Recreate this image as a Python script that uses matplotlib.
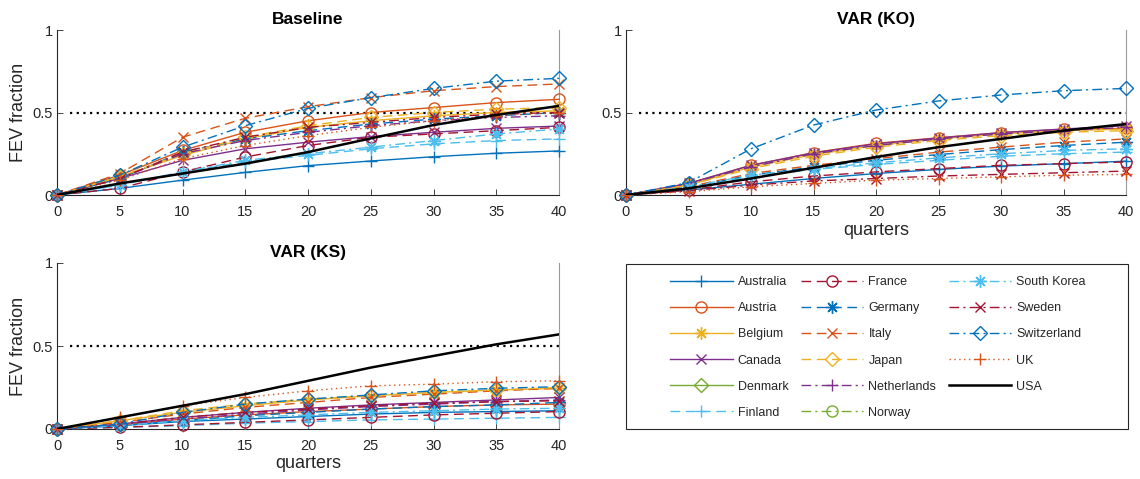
import matplotlib
matplotlib.use("Agg")
import matplotlib.pyplot as plt
import numpy as np
from matplotlib.patches import Rectangle

plt.rcParams['font.family'] = ['Liberation Sans', 'DejaVu Sans']

nan = np.nan
quarters = [0, 5, 10, 15, 20, 25, 30, 35, 40]
countries = ["Australia", "Austria", "Belgium", "Canada", "Denmark", "Finland",
             "France", "Germany", "Italy", "Japan", "Netherlands", "Norway",
             "South Korea", "Sweden", "Switzerland", "UK", "USA"]
threshold = 0.5

baseline = {
    "Australia":   [0, 0.04, 0.09, 0.137, 0.178, 0.206, 0.232, 0.253, 0.267],
    "Austria":     [0, 0.12, 0.27, 0.38, 0.45, 0.50, 0.53, 0.56, 0.58],
    "Belgium":     [0, 0.11, 0.24, 0.34, 0.41, 0.45, 0.48, 0.50, 0.51],
    "Canada":      [0, 0.10, 0.21, 0.28, 0.32, 0.354, 0.38, 0.404, 0.418],
    "Denmark":     [nan, nan, nan, nan, nan, nan, nan, nan, nan],
    "Finland":     [0, 0.06, 0.14, 0.20, 0.24, 0.28, 0.31, 0.33, 0.34],
    "France":      [0, 0.04, 0.14, 0.23, 0.30, 0.35, 0.37, 0.39, 0.41],
    "Germany":     [0, 0.10, 0.26, 0.34, 0.39, 0.43, 0.46, 0.48, 0.50],
    "Italy":       [0, 0.13, 0.35, 0.465, 0.535, 0.59, 0.632, 0.657, 0.673],
    "Japan":       [0, 0.11, 0.25, 0.35, 0.42, 0.47, 0.50, 0.52, 0.53],
    "Netherlands": [0, 0.10, 0.25, 0.33, 0.38, 0.42, 0.45, 0.47, 0.48],
    "Norway":      [nan, nan, nan, nan, nan, nan, nan, nan, nan],
    "South Korea": [0, 0.06, 0.14, 0.21, 0.25, 0.29, 0.33, 0.37, 0.40],
    "Sweden":      [0, 0.10, 0.26, 0.35, 0.41, 0.44, 0.47, 0.49, 0.50],
    "Switzerland": [0, 0.12, 0.29, 0.42, 0.525, 0.59, 0.646, 0.69, 0.707],
    "UK":          [0, 0.09, 0.22, 0.30, 0.36, 0.41, 0.45, 0.48, 0.50],
    "USA":         [0, 0.07, 0.13, 0.19, 0.26, 0.343, 0.424, 0.485, 0.54],
}

var_ko = {
    "Australia":   [0, 0.03, 0.065, 0.10, 0.13, 0.155, 0.175, 0.19, 0.205],
    "Austria":     [0, 0.07, 0.18, 0.257, 0.313, 0.347, 0.378, 0.398, 0.404],
    "Belgium":     [0, 0.06, 0.17, 0.245, 0.30, 0.34, 0.37, 0.39, 0.40],
    "Canada":      [0, 0.07, 0.18, 0.255, 0.31, 0.345, 0.378, 0.40, 0.42],
    "Denmark":     [nan, nan, nan, nan, nan, nan, nan, nan, nan],
    "Finland":     [0, 0.05, 0.11, 0.155, 0.185, 0.21, 0.235, 0.25, 0.26],
    "France":      [0, 0.03, 0.08, 0.115, 0.14, 0.16, 0.18, 0.19, 0.20],
    "Germany":     [0, 0.05, 0.12, 0.17, 0.21, 0.245, 0.275, 0.30, 0.32],
    "Italy":       [0, 0.05, 0.13, 0.18, 0.22, 0.26, 0.29, 0.32, 0.34],
    "Japan":       [0, 0.06, 0.16, 0.235, 0.29, 0.33, 0.36, 0.38, 0.39],
    "Netherlands": [0, 0.07, 0.17, 0.25, 0.30, 0.34, 0.37, 0.39, 0.41],
    "Norway":      [nan, nan, nan, nan, nan, nan, nan, nan, nan],
    "South Korea": [0, 0.05, 0.12, 0.16, 0.195, 0.225, 0.25, 0.27, 0.28],
    "Sweden":      [0, 0.025, 0.06, 0.085, 0.10, 0.115, 0.125, 0.135, 0.145],
    "Switzerland": [0, 0.075, 0.28, 0.424, 0.515, 0.57, 0.606, 0.632, 0.646],
    "UK":          [0, 0.02, 0.05, 0.07, 0.09, 0.10, 0.11, 0.12, 0.125],
    "USA":         [0, 0.04, 0.10, 0.165, 0.23, 0.29, 0.34, 0.39, 0.43],
}

var_ks = {
    "Australia":   [0, 0.02, 0.045, 0.06, 0.075, 0.09, 0.10, 0.105, 0.11],
    "Austria":     [0, 0.025, 0.06, 0.085, 0.105, 0.12, 0.135, 0.145, 0.15],
    "Belgium":     [0, 0.05, 0.10, 0.14, 0.175, 0.20, 0.22, 0.235, 0.245],
    "Canada":      [0, 0.03, 0.07, 0.10, 0.125, 0.145, 0.16, 0.175, 0.19],
    "Denmark":     [nan, nan, nan, nan, nan, nan, nan, nan, nan],
    "Finland":     [0, 0.01, 0.02, 0.035, 0.045, 0.055, 0.06, 0.065, 0.07],
    "France":      [0, 0.01, 0.025, 0.04, 0.055, 0.07, 0.085, 0.095, 0.105],
    "Germany":     [0, 0.02, 0.05, 0.08, 0.10, 0.12, 0.135, 0.145, 0.16],
    "Italy":       [0, 0.04, 0.09, 0.13, 0.16, 0.19, 0.21, 0.23, 0.245],
    "Japan":       [0, 0.05, 0.11, 0.15, 0.18, 0.20, 0.22, 0.235, 0.25],
    "Netherlands": [0, 0.025, 0.06, 0.09, 0.115, 0.135, 0.15, 0.165, 0.175],
    "Norway":      [nan, nan, nan, nan, nan, nan, nan, nan, nan],
    "South Korea": [0, 0.02, 0.05, 0.07, 0.085, 0.10, 0.11, 0.12, 0.125],
    "Sweden":      [0, 0.03, 0.07, 0.10, 0.12, 0.14, 0.155, 0.165, 0.17],
    "Switzerland": [0, 0.03, 0.10, 0.15, 0.18, 0.205, 0.23, 0.245, 0.255],
    "UK":          [0, 0.07, 0.14, 0.19, 0.23, 0.26, 0.27, 0.285, 0.29],
    "USA":         [0, 0.07, 0.14, 0.21, 0.29, 0.37, 0.44, 0.51, 0.57],
}

# styles
C = {"blue": "#0072BD", "orange": "#D95319", "yellow": "#EDB120", "purple": "#7E2F8E",
     "green": "#77AC30", "cyan": "#4DBEEE", "red": "#A2142F"}
SOLID = "-"
DASH = (0, (7, 4))
DASHDOT = (0, (7, 3, 1.5, 3))
DOT = (0, (1, 2.5))
AST = (8, 2, 0)
styles = {
    "Australia":   (C["blue"], SOLID, "+"),
    "Austria":     (C["orange"], SOLID, "o"),
    "Belgium":     (C["yellow"], SOLID, AST),
    "Canada":      (C["purple"], SOLID, "x"),
    "Denmark":     (C["green"], SOLID, "D"),
    "Finland":     (C["cyan"], DASH, "+"),
    "France":      (C["red"], DASH, "o"),
    "Germany":     (C["blue"], DASH, AST),
    "Italy":       (C["orange"], DASH, "x"),
    "Japan":       (C["yellow"], DASH, "D"),
    "Netherlands": (C["purple"], DASHDOT, "+"),
    "Norway":      (C["green"], DASHDOT, "o"),
    "South Korea": (C["cyan"], DASHDOT, AST),
    "Sweden":      (C["red"], DASHDOT, "x"),
    "Switzerland": (C["blue"], DASHDOT, "D"),
    "UK":          (C["orange"], DOT, "+"),
    "USA":         ("black", SOLID, None),
}
msize = {"+": 9, "o": 8, "x": 7, "D": 7}

W, H = 1140, 479
fig = plt.figure(figsize=(W / 100, H / 100), dpi=100)

def pos(x0, x1, ytop, ybot):
    return [x0 / W, 1 - ybot / H, (x1 - x0) / W, (ybot - ytop) / H]

ax_b = fig.add_axes(pos(57, 559, 30, 195))
ax_ko = fig.add_axes(pos(626, 1126, 30, 195))
ax_ks = fig.add_axes(pos(57, 559, 263, 429))

TXT = "#262626"
handles = []

def draw(ax, data, title, xlabel, ylabel, collect=False):
    for name in countries:
        col, ls, mk = styles[name]
        if name == "USA":
            ln, = ax.plot(quarters, data[name], color=col, lw=1.8, linestyle=ls,
                          label=name, zorder=4)
        else:
            ln, = ax.plot(quarters, data[name], color=col, lw=1.0, linestyle=ls,
                          marker=mk, markersize=msize.get(mk, 9),
                          markerfacecolor="none", markeredgewidth=1.0,
                          label=name, clip_on=False, zorder=3)
        if collect:
            handles.append(ln)
    ax.plot([1, 40], [threshold, threshold], color="black", lw=1.6,
            linestyle=(0, (1, 2)), zorder=2)
    ax.set_xlim(0, 40)
    ax.set_ylim(0, 1)
    ax.set_xticks(quarters)
    ax.set_yticks([0, 0.5, 1])
    ax.set_yticklabels(["0", "0.5", "1"])
    ax.tick_params(direction="in", length=4, width=0.6, colors=TXT, labelsize=10.5)
    ax.tick_params(axis="x", pad=7)
    ax.tick_params(axis="y", pad=3)
    ax.spines["top"].set_visible(False)
    ax.spines["right"].set_color("#9a9a9a")
    ax.spines["right"].set_linewidth(0.8)
    for s in ("left", "bottom"):
        ax.spines[s].set_color(TXT)
        ax.spines[s].set_linewidth(0.8)
    ax.set_title(title, fontsize=12.5, fontweight="bold", color="black", pad=4)
    if xlabel:
        ax.set_xlabel(xlabel, fontsize=13, color=TXT, labelpad=2)
    if ylabel:
        ax.set_ylabel(ylabel, fontsize=13, color=TXT, labelpad=4)

draw(ax_b, baseline, "Baseline", None, "FEV fraction", collect=True)
draw(ax_ko, var_ko, "VAR (KO)", "quarters", None)
draw(ax_ks, var_ks, "VAR (KS)", "quarters", "FEV fraction")

# legend box
fig.patches.append(Rectangle((626 / W, 1 - 429 / H), 502 / W, 165 / H,
                             transform=fig.transFigure, fill=False,
                             edgecolor=TXT, linewidth=0.8))
fig.legend(handles, countries, ncol=3, loc="center",
           bbox_to_anchor=(878 / W, 1 - 347.5 / H), frameon=False, fontsize=9,
           handlelength=5, labelspacing=1.13, columnspacing=1.0,
           handletextpad=0.4, numpoints=1, labelcolor=TXT)

fig.savefig("out.png", dpi=100)
